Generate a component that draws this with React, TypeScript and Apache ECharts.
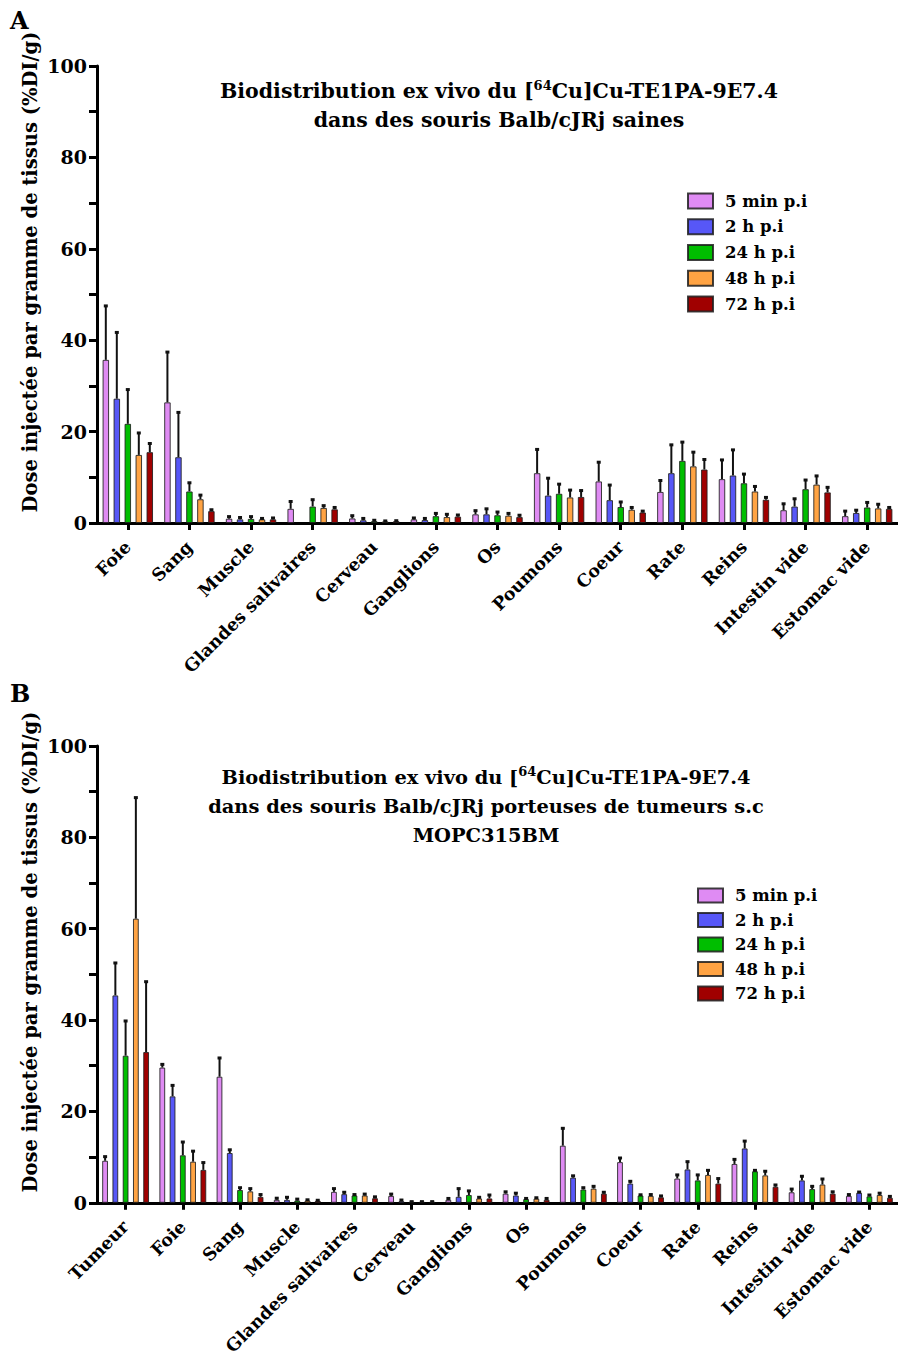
import React, { useEffect, useRef } from "react";
import * as echarts from "echarts";

const FONT = "DejaVu Serif";

const seriesNames = ["5 min p.i", "2 h p.i", "24 h p.i", "48 h p.i", "72 h p.i"];
const colors = ["#DF8BF3", "#5757F7", "#00BE00", "#FFA343", "#A00000"];

// Panel A: healthy Balb/cJRj mice
const catsA = ["Foie", "Sang", "Muscle", "Glandes salivaires", "Cerveau", "Ganglions", "Os", "Poumons", "Coeur", "Rate", "Reins", "Intestin vide", "Estomac vide"];
const a5min = [35.7, 26.4, 0.95, 3.1, 1.0, 0.8, 1.9, 10.9, 9.1, 6.8, 9.6, 2.8, 1.5];
const a5minSd = [11.8, 11.0, 0.45, 1.6, 0.6, 0.3, 0.8, 5.2, 4.2, 2.5, 4.2, 1.4, 1.1];
const a2h = [27.2, 14.4, 0.8, null, 0.6, 0.65, 1.9, 6.0, 5.0, 10.9, 10.4, 3.6, 2.2];
const a2hSd = [14.5, 9.8, 0.4, null, 0.4, 0.35, 1.2, 3.8, 3.3, 6.2, 5.6, 1.7, 0.6];
const a24h = [21.7, 6.9, 0.9, 3.6, 0.4, 1.5, 1.7, 6.4, 3.5, 13.6, 8.7, 7.4, 3.4];
const a24hSd = [7.5, 1.9, 0.5, 1.5, 0.2, 0.6, 0.7, 2.1, 1.1, 4.1, 2.0, 2.0, 1.1];
const a48h = [14.9, 5.2, 0.8, 3.3, 0.35, 1.3, 1.6, 5.6, 2.9, 12.4, 6.9, 8.4, 3.2];
const a48hSd = [4.8, 0.9, 0.2, 0.5, 0.1, 0.6, 0.5, 1.6, 0.5, 3.1, 1.1, 1.9, 0.9];
const a72h = [15.5, 2.6, 0.8, 3.0, 0.4, 1.4, 1.3, 5.7, 2.3, 11.7, 5.1, 6.7, 3.1];
const a72hSd = [1.9, 0.3, 0.3, 0.4, 0.1, 0.35, 0.4, 1.4, 0.3, 2.2, 0.5, 1.1, 0.3];

// Panel B: tumour-bearing mice (MOPC315BM)
const catsB = ["Tumeur", "Foie", "Sang", "Muscle", "Glandes salivaires", "Cerveau", "Ganglions", "Os", "Poumons", "Coeur", "Rate", "Reins", "Intestin vide", "Estomac vide"];
const b5min = [9.2, 29.6, 27.6, 0.65, 2.4, 1.5, 0.65, 2.0, 12.5, 8.9, 5.3, 8.5, 2.3, 1.5];
const b5minSd = [0.9, 0.7, 4.1, 0.35, 0.7, 0.4, 0.3, 0.4, 3.8, 0.9, 0.8, 1.0, 0.7, 0.3];
const b2h = [45.4, 23.3, 10.9, 0.65, 1.9, 0.35, 1.3, 1.6, 5.5, 4.2, 7.3, 11.9, 4.9, 2.2];
const b2hSd = [7.1, 2.4, 0.7, 0.55, 0.4, 0.25, 1.8, 0.5, 0.4, 0.5, 1.7, 1.6, 0.9, 0.15];
const b24h = [32.2, 10.4, 2.8, 0.5, 1.6, 0.2, 1.7, 0.8, 2.9, 1.6, 4.9, 6.9, 3.0, 1.4];
const b24hSd = [7.6, 2.9, 0.5, 0.3, 0.2, 0.05, 0.9, 0.15, 0.4, 0.15, 1.2, 0.2, 0.6, 0.3];
const b48h = [62.2, 9.0, 2.5, 0.5, 1.6, 0.2, 0.95, 0.9, 3.1, 1.5, 6.1, 6.0, 4.0, 1.7];
const b48hSd = [26.5, 2.3, 0.6, 0.15, 0.3, 0.05, 0.25, 0.2, 0.5, 0.3, 1.0, 0.9, 1.2, 0.4];
const b72h = [33.0, 7.2, 1.3, 0.45, 1.0, 0.2, 0.95, 0.65, 2.0, 1.2, 4.2, 3.5, 2.0, 1.1];
const b72hSd = [15.4, 1.6, 0.5, 0.1, 0.3, 0.05, 0.75, 0.3, 0.3, 0.3, 1.1, 0.4, 0.4, 0.3];

const yTicks = [0, 20, 40, 60, 80, 100];

const meansA = [a5min, a2h, a24h, a48h, a72h];
const sdsA = [a5minSd, a2hSd, a24hSd, a48hSd, a72hSd];
const meansB = [b5min, b2h, b24h, b48h, b72h];
const sdsB = [b5minSd, b2hSd, b24hSd, b48hSd, b72hSd];

function barSeries(gi: number, means: (number | null)[][], bw: number, gap: string) {
  return means.map((m, k) => ({
    type: "bar",
    name: seriesNames[k],
    xAxisIndex: gi,
    yAxisIndex: gi,
    data: m.map((v) => (v == null ? "-" : v)),
    barWidth: bw,
    barGap: gap,
    itemStyle: { color: colors[k], borderColor: "rgba(30,30,30,0.85)", borderWidth: 1 },
    z: 2,
  }));
}

function errSeries(gi: number, means: (number | null)[][], sds: (number | null)[][], spacing: number) {
  return means.map((m, k) => ({
    type: "custom",
    name: "err" + gi + "_" + k,
    xAxisIndex: gi,
    yAxisIndex: gi,
    z: 3,
    data: m
      .map((v, i) => (v == null || sds[k][i] == null ? null : [i, v, v + (sds[k][i] as number)]))
      .filter((d) => d != null),
    renderItem: (params: any, api: any) => {
      const base = api.coord([api.value(0), api.value(1)]);
      const top = api.coord([api.value(0), api.value(2)]);
      const x = base[0] + (k - 2) * spacing;
      return {
        type: "group",
        children: [
          { type: "line", shape: { x1: x, y1: base[1], x2: x, y2: top[1] }, style: { stroke: "#111", lineWidth: 2 } },
          { type: "line", shape: { x1: x - 2, y1: top[1], x2: x + 2, y2: top[1] }, style: { stroke: "#111", lineWidth: 3 } },
        ],
      };
    },
  }));
}

function yAxis(gi: number) {
  return {
    type: "value",
    gridIndex: gi,
    min: 0,
    max: 100,
    interval: 10,
    splitLine: { show: false },
    axisLine: { show: true, lineStyle: { color: "#000", width: 3 } },
    axisTick: { show: true, length: 8, lineStyle: { color: "#000", width: 3 } },
    axisLabel: {
      margin: 10,
      fontFamily: FONT,
      fontWeight: "bold",
      fontSize: 19,
      color: "#000",
      formatter: (v: number) => (yTicks.includes(v) ? String(v) : ""),
    },
  };
}

function xAxis(gi: number, cats: string[]) {
  return {
    type: "category",
    gridIndex: gi,
    data: cats,
    axisLine: { show: true, lineStyle: { color: "#000", width: 3 } },
    axisTick: { show: true, alignWithLabel: true, length: 7, lineStyle: { color: "#000", width: 3 } },
    axisLabel: {
      rotate: 45,
      interval: 0,
      margin: 21,
      fontFamily: FONT,
      fontWeight: "bold",
      fontSize: 17.5,
      color: "#000",
    },
  };
}

function titleText(x: number, y: number, lines: string[], size: number) {
  const rich = {
    a: { fontFamily: FONT, fontWeight: "bold", fontSize: size, fill: "#000", lineHeight: size + 4 },
    s: { fontFamily: FONT, fontWeight: "bold", fontSize: Math.round(size * 0.65), fill: "#000", lineHeight: Math.round(size * 0.7), verticalAlign: "top" },
  };
  return lines.map((ln, i) => ({
    type: "text",
    x,
    y: y + i * 29,
    style: {
      text: ln,
      rich,
      fontFamily: FONT,
      fontWeight: "bold",
      fontSize: size,
      fill: "#000",
      textAlign: "center",
      textVerticalAlign: "middle",
    },
  }));
}

const L1 = "{a|Biodistribution ex vivo du [}{s|64}{a|Cu]Cu-TE1PA-9E7.4}";
const yName = "Dose injectée par gramme de tissus (%DI/g)";

export default function App() {
  const ref = useRef<HTMLDivElement>(null);
  useEffect(() => {
    if (!ref.current) return;
    const chart = echarts.init(ref.current, null, { renderer: "svg" });
    const legendCommon = {
      orient: "vertical",
      data: seriesNames,
      icon: "rect",
      itemWidth: 25,
      padding: 0,
      selectedMode: false,
      textStyle: {
        fontFamily: FONT,
        fontWeight: "bold",
        fontSize: 16.5,
        color: "#000",
        padding: [0, 0, 0, 7],
      },
    };
    chart.setOption({
      animation: false,
      backgroundColor: "#fff",
      grid: [
        { left: 97, top: 66, width: 802, height: 457 },
        { left: 97, top: 746, width: 806, height: 457 },
      ],
      xAxis: [xAxis(0, catsA), xAxis(1, catsB)],
      yAxis: [yAxis(0), yAxis(1)],
      legend: [
        { ...legendCommon, left: 687, top: 192.5, itemHeight: 15, itemGap: 8.75 },
        { ...legendCommon, left: 697, top: 887, itemHeight: 14, itemGap: 7.5 },
      ],
      graphic: [
        { type: "text", x: 10, y: 8, style: { text: "A", fontFamily: FONT, fontWeight: "bold", fontSize: 24, fill: "#000" } },
        { type: "text", x: 10, y: 681, style: { text: "B", fontFamily: FONT, fontWeight: "bold", fontSize: 24, fill: "#000" } },
        ...titleText(499, 91, [L1, "{a|dans des souris Balb/cJRj saines}"], 20.5),
        ...titleText(486, 777, [L1, "{a|dans des souris Balb/cJRj porteuses de tumeurs s.c}", "{a|MOPC315BM}"], 19.4),
        {
          type: "text",
          x: 30,
          y: 272,
          rotation: Math.PI / 2,
          style: { text: yName, fontFamily: FONT, fontWeight: "bold", fontSize: 19.5, fill: "#000", textAlign: "center", textVerticalAlign: "middle" },
        },
        {
          type: "text",
          x: 30,
          y: 952,
          rotation: Math.PI / 2,
          style: { text: yName, fontFamily: FONT, fontWeight: "bold", fontSize: 19.5, fill: "#000", textAlign: "center", textVerticalAlign: "middle" },
        },
      ],
      series: [
        ...barSeries(0, meansA, 6.5, "69%"),
        ...barSeries(1, meansB, 5.8, "77%"),
        ...errSeries(0, meansA, sdsA, 11),
        ...errSeries(1, meansB, sdsB, 10.25),
      ],
    });
    return () => chart.dispose();
  }, []);
  return <div ref={ref} style={{ position: "fixed", left: 0, top: 0, width: 898, height: 1358 }} />;
}
